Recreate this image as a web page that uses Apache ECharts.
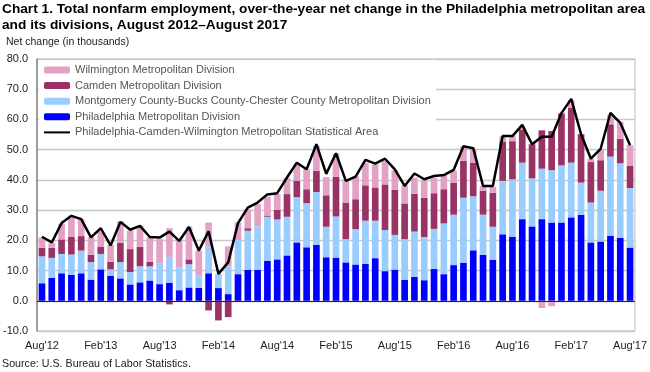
<!DOCTYPE html>
<html>
<head>
<meta charset="utf-8">
<script src="https://cdn.jsdelivr.net/npm/echarts@6/dist/echarts.min.js"></script>
<style>
html,body{margin:0;padding:0;background:#fff;}
#c{width:650px;height:372px;}
</style>
</head>
<body>
<div id="c"></div>
<script>
var categories = ["Aug'12","Sep'12","Oct'12","Nov'12","Dec'12","Jan'13","Feb'13","Mar'13","Apr'13","May'13","Jun'13","Jul'13",
"Aug'13","Sep'13","Oct'13","Nov'13","Dec'13","Jan'14","Feb'14","Mar'14","Apr'14","May'14","Jun'14","Jul'14",
"Aug'14","Sep'14","Oct'14","Nov'14","Dec'14","Jan'15","Feb'15","Mar'15","Apr'15","May'15","Jun'15","Jul'15",
"Aug'15","Sep'15","Oct'15","Nov'15","Dec'15","Jan'16","Feb'16","Mar'16","Apr'16","May'16","Jun'16","Jul'16",
"Aug'16","Sep'16","Oct'16","Nov'16","Dec'16","Jan'17","Feb'17","Mar'17","Apr'17","May'17","Jun'17","Jul'17","Aug'17"];

var philadelphia = [5.8,7.6,9.1,8.6,9.1,7.0,10.4,8.2,7.4,5.4,6.1,6.7,
5.5,6.0,3.5,4.4,4.3,9.1,4.2,2.2,8.8,10.2,10.2,13.2,
13.7,15.0,19.3,17.7,18.5,14.4,14.3,12.7,12.0,12.2,14.1,9.8,
10.3,6.9,7.9,6.8,10.5,8.8,11.8,12.6,16.7,15.2,13.5,22.0,
21.2,27.0,24.6,27.0,25.9,25.9,27.6,28.4,19.3,19.6,21.5,20.8,17.6];

var montgomery = [8.9,6.6,6.4,6.7,7.5,5.8,5.1,2.2,5.4,4.1,5.3,4.7,
6.9,8.5,7.5,7.7,4.2,8.9,4.7,9.2,11.3,13.0,14.4,14.6,
13.2,12.8,15.0,14.6,17.5,10.1,13.6,7.7,11.7,14.3,12.4,13.6,
11.5,13.5,15.0,14.3,13.3,16.8,16.7,21.5,17.9,13.3,11.0,17.7,
19.0,18.7,15.9,16.7,17.3,18.9,18.1,10.7,13.2,16.8,26.2,24.7,19.7];

var camden = [2.8,3.3,4.8,5.8,4.8,2.4,2.3,2.5,6.4,7.6,6.5,1.5,
0.0,-1.2,0.0,1.6,0.0,-3.2,-6.5,-5.4,-0.4,0.8,0.0,0.4,
3.2,7.5,5.4,4.6,7.0,10.4,13.1,12.1,9.9,11.7,11.0,15.1,
14.9,11.8,12.5,13.0,11.8,11.3,10.6,12.2,11.1,7.9,11.2,13.0,
12.6,11.0,11.3,12.7,13.0,17.2,18.1,16.0,13.4,10.1,10.7,8.1,7.3];

var wilmington = [3.5,1.6,5.2,6.3,5.6,5.8,5.2,5.6,7.1,6.1,6.9,8.0,
8.0,9.5,8.8,10.8,8.1,7.9,0.0,6.6,5.8,6.3,7.4,6.2,
5.2,5.3,5.5,6.6,8.3,6.0,7.7,7.7,7.5,7.5,7.6,7.7,
6.5,6.0,5.3,5.8,5.1,4.6,3.9,4.8,4.5,1.5,2.0,1.7,
1.6,0.6,0.2,-2.4,-1.8,0.2,2.5,0.0,1.1,3.6,3.2,5.6,6.9];

var msaTotal = [21.2,19.3,25.7,28.1,27.0,21.0,24.0,18.3,26.1,23.5,24.8,21.1,
20.9,22.9,19.8,24.4,16.6,23.0,8.9,12.7,25.7,30.8,32.5,35.2,
35.6,40.8,45.7,43.5,51.8,42.0,48.8,39.7,41.1,46.6,45.4,47.0,
43.5,38.0,42.1,40.2,41.3,41.6,43.3,51.1,50.5,38.0,38.0,54.5,
54.5,58.2,51.8,54.3,54.3,62.1,66.8,55.1,47.0,50.3,62.2,58.9,51.5];

var seriesNames = ["Philadelphia Metropolitan Division",
"Montgomery County-Bucks County-Chester County Metropolitan Division",
"Camden Metropolitan Division",
"Wilmington Metropolitan Division",
"Philadelphia-Camden-Wilmington Metropolitan Statistical Area"];

var yTicks = {min:-10, max:80, interval:10};

var FONT = "'Liberation Sans', Arial, sans-serif";
var chart = echarts.init(document.getElementById('c'), null, {renderer:'canvas'});

function barSeries(name, data, color){
  return {name:name, type:'bar', stack:'total', data:data, barWidth:'68%',
    itemStyle:{color:color}, emphasis:{disabled:true}};
}

var bars = [
  barSeries(seriesNames[0], philadelphia, '#0000FF'),
  barSeries(seriesNames[1], montgomery, '#99CCFF'),
  barSeries(seriesNames[2], camden, '#993366'),
  barSeries(seriesNames[3], wilmington, '#E3A1C6')
];
bars[0].markLine = {silent:true, symbol:'none', label:{show:false},
  lineStyle:{color:'#222', width:1, type:'solid'}, data:[{yAxis:0}], animation:false};

var option = {
  animation:false,
  textStyle:{fontFamily:FONT},
  title:[
    {text:"Chart 1. Total nonfarm employment, over-the-year net change in the Philadelphia metropolitan area\nand its divisions, August 2012\u2013August 2017",
     left:2, top:1, padding:0,
     textStyle:{fontFamily:FONT, fontSize:13.7, fontWeight:'bold', color:'#000', lineHeight:16}},
    {text:"Net change (in thousands)", left:6, top:37, padding:0,
     textStyle:{fontFamily:FONT, fontSize:10.5, fontWeight:'normal', color:'#222'}},
    {text:"Source: U.S. Bureau of Labor Statistics.", left:2, top:359, padding:0,
     textStyle:{fontFamily:FONT, fontSize:10.7, fontWeight:'normal', color:'#222'}}
  ],
  legend:{
    orient:'vertical', left:39, top:60,
    data:[seriesNames[3], seriesNames[2], seriesNames[1], seriesNames[0],
      {name:seriesNames[4], itemStyle:{opacity:0}}],
    itemWidth:26, itemHeight:7, itemGap:2.6,
    backgroundColor:'#fff', padding:[3.5,5,4,4],
    textStyle:{fontFamily:FONT, fontSize:11, color:'#555', lineHeight:13},
    selectedMode:false
  },
  grid:{left:37, right:13, top:59, bottom:41, containLabel:false,
        show:true, borderColor:'#bbb', borderWidth:1},
  xAxis:{type:'category', data:categories, boundaryGap:true,
    axisLine:{show:false, onZero:false}, axisTick:{show:false},
    axisLabel:{interval:5, fontFamily:FONT, fontSize:11, color:'#222', margin:9},
    splitLine:{show:false}},
  yAxis:{type:'value', min:yTicks.min, max:yTicks.max, interval:yTicks.interval,
    axisLine:{show:true, lineStyle:{color:'#888', width:1.5}},
    axisTick:{show:false},
    axisLabel:{fontFamily:FONT, fontSize:11, color:'#222', margin:9,
      formatter:function(v){return v.toFixed(1);}},
    splitLine:{show:true, lineStyle:{color:'#c8c8c8', width:1.3}}},
  series: bars.concat([{
    name:seriesNames[4], type:'line', data:msaTotal, symbol:'none', smooth:false,
    lineStyle:{color:'#000', width:2.5}, itemStyle:{color:'#000'}, z:5,
    emphasis:{disabled:true}
  }])
};
chart.setOption(option);
</script>
</body>
</html>
